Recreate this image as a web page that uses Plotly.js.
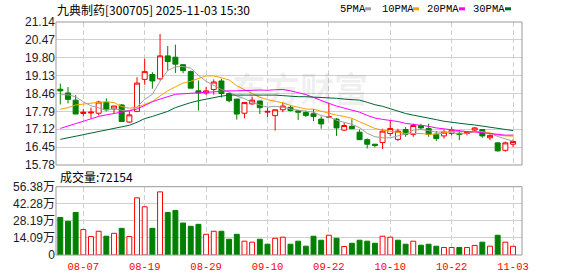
<!DOCTYPE html>
<html>
<head>
<meta charset="utf-8">
<script src="https://cdn.plot.ly/plotly-3.0.1.min.js"></script>
<style>html,body{margin:0;padding:0;background:#fff;}#chart{width:578px;height:276px;}</style>
</head>
<body>
<div id="chart"></div>
<script>
// ---- data ----
const dates = ['08-04','08-05','08-06','08-07','08-08','08-11','08-12','08-13','08-14','08-15',
  '08-18','08-19','08-20','08-21','08-22','08-25','08-26','08-27','08-28','08-29',
  '09-01','09-02','09-03','09-04','09-05','09-08','09-09','09-10','09-11','09-12',
  '09-15','09-16','09-17','09-18','09-19','09-22','09-23','09-24','09-25','09-26',
  '09-29','09-30','10-09','10-10','10-13','10-14','10-15','10-16','10-17','10-20',
  '10-21','10-22','10-23','10-24','10-27','10-28','10-29','10-30','10-31','11-03'];
const openP = [18.62,18.48,18.21,17.71,17.73,17.72,18.13,17.88,18.03,17.39,
  17.79,18.99,19.17,19.01,19.87,19.82,19.54,19.28,18.56,18.48,
  18.61,18.93,18.46,18.25,17.72,18.07,18.18,17.76,17.63,17.85,
  17.94,17.81,17.75,17.70,17.50,17.57,17.50,17.09,17.23,17.01,
  16.73,16.56,16.62,16.96,16.74,17.11,16.93,17.26,17.15,16.93,
  16.87,16.96,16.97,16.96,17.09,17.11,16.80,16.61,16.33,16.56];
const highP = [18.83,18.70,18.40,17.88,17.93,18.19,18.28,18.00,18.06,17.81,
  19.07,19.77,19.26,20.69,20.24,20.29,19.55,19.32,18.95,18.70,
  18.99,19.01,18.50,18.25,18.12,18.34,18.18,17.93,17.85,18.12,
  18.03,17.82,17.81,17.88,17.60,18.09,17.54,17.36,17.50,17.11,
  16.78,16.57,17.14,17.45,17.14,17.20,17.33,17.33,17.33,17.05,
  17.11,17.20,17.09,17.05,17.20,17.12,16.93,16.62,16.66,16.74];
const lowP = [18.05,18.09,17.69,17.60,17.52,17.64,17.79,17.70,17.40,17.36,
  17.76,18.79,18.64,18.95,19.32,19.23,19.22,18.66,17.82,18.40,
  18.42,18.31,18.13,17.48,17.53,18.03,17.69,17.57,17.07,17.76,
  17.79,17.47,17.58,17.42,17.14,17.54,16.87,17.05,17.13,16.72,
  16.40,16.44,16.38,16.87,16.68,16.84,16.84,17.11,16.84,16.68,
  16.77,16.89,16.71,16.89,17.05,16.80,16.71,16.28,16.28,16.46];
const closeP = [18.56,18.24,17.69,17.76,17.76,18.14,17.85,17.99,17.41,17.66,
  18.85,19.28,18.93,19.87,19.66,19.56,19.32,18.66,18.48,18.56,
  18.89,18.46,18.19,17.69,18.12,18.21,17.93,17.79,17.85,17.99,
  17.82,17.76,17.64,17.60,17.32,17.59,17.17,17.26,17.14,16.73,
  16.56,16.51,17.05,17.15,17.05,16.93,17.26,17.17,16.93,16.77,
  17.01,17.09,16.93,17.01,17.17,16.87,16.89,16.31,16.61,16.66];
const ma5 = [18.42,18.41,18.34,18.15,18.00,17.92,17.84,17.90,17.83,17.81,
  17.95,18.24,18.43,18.92,19.32,19.46,19.47,19.41,19.14,18.92,
  18.78,18.61,18.52,18.36,18.27,18.13,18.03,17.95,17.98,17.95,
  17.88,17.84,17.81,17.76,17.63,17.58,17.46,17.39,17.30,17.18,
  16.97,16.84,16.80,16.80,16.86,16.94,17.09,17.11,17.07,17.01,
  17.03,16.99,16.95,16.96,17.04,17.01,16.97,16.85,16.77,16.67];
const ma10 = [17.87,17.93,18.03,18.07,18.09,18.13,18.15,18.12,17.97,17.91,
  17.94,18.04,18.16,18.37,18.56,18.71,18.85,18.92,19.03,19.12,
  19.12,19.04,18.97,18.75,18.59,18.46,18.32,18.23,18.17,18.11,
  18.01,17.94,17.88,17.87,17.79,17.73,17.65,17.60,17.53,17.40,
  17.28,17.15,17.09,17.05,17.02,16.96,16.96,16.96,16.93,16.94,
  16.98,17.04,17.03,17.02,17.03,17.02,16.98,16.90,16.87,16.86];
const ma20 = [17.15,17.23,17.33,17.42,17.52,17.60,17.66,17.72,17.76,17.81,
  17.88,18.01,18.15,18.25,18.34,18.43,18.45,18.47,18.50,18.51,
  18.53,18.54,18.56,18.56,18.58,18.58,18.59,18.58,18.60,18.61,
  18.56,18.49,18.42,18.31,18.19,18.09,17.99,17.92,17.85,17.76,
  17.64,17.54,17.49,17.46,17.41,17.34,17.31,17.28,17.23,17.17,
  17.13,17.10,17.06,17.03,17.02,16.99,16.97,16.93,16.90,16.90];
const ma30 = [16.74,16.80,16.87,16.93,16.98,17.05,17.11,17.17,17.23,17.27,
  17.38,17.52,17.60,17.69,17.79,17.93,18.03,18.12,18.19,18.25,
  18.30,18.36,18.40,18.40,18.41,18.42,18.42,18.41,18.40,18.38,
  18.35,18.34,18.34,18.33,18.32,18.30,18.28,18.25,18.24,18.21,
  18.13,18.04,17.98,17.89,17.80,17.71,17.65,17.60,17.54,17.48,
  17.42,17.38,17.33,17.31,17.28,17.24,17.20,17.15,17.11,17.07];
// volume in 万 (10k)
const volume = [31.0,27.8,35.1,21.0,15.2,19.6,15.5,17.9,22.0,15.2,
  47.2,39.8,22.0,52.1,35.1,36.8,26.4,23.7,25.3,17.1,
  19.6,19.6,13.0,17.1,11.4,10.6,13.0,8.9,13.8,14.7,
  8.9,11.4,7.3,15.5,12.2,16.3,13.8,7.0,9.7,12.2,
  11.4,9.7,15.5,14.7,12.2,8.9,11.4,8.1,8.9,7.3,
  6.2,6.2,6.2,6.2,7.9,10.6,7.3,16.3,10.6,7.22];
// 1 = up (red hollow), -1 = down (green solid)
const volDir = [-1,-1,-1,1,1,1,-1,1,-1,1,
  1,1,-1,1,-1,-1,-1,-1,-1,1,
  1,-1,-1,-1,1,1,-1,-1,1,1,
  -1,-1,-1,-1,-1,1,-1,1,-1,-1,
  -1,-1,1,1,-1,-1,1,-1,-1,-1,
  1,1,-1,1,1,-1,1,-1,1,1];
const priceTicks = [15.78,16.45,17.12,17.79,18.46,19.13,19.80,20.47,21.14];
const volTicks = [0,14.09,28.19,42.28,56.38];
const volTickText = ['0','14.09万','28.19万','42.28万','56.38万'];
const dateTicks = ['08-07','08-19','08-29','09-10','09-22','10-10','10-22','11-03'];
const maNames = ['5PMA','10PMA','20PMA','30PMA'];
const lastVolume = '72154';

// ---- style ----
const RED = '#ff0000', GREEN = '#008000';
const maColors = ['#a0a0a0','#f5a200','#ff00ff','#006633'];
const W = 578, H = 276, L = 56, R = 56, T = 22, B = 21;
const PH = H - T - B, PW = W - L - R;
const py = Y => (H - B - Y) / PH;   // pixel y -> paper
const px = X => (X - L) / PW;        // pixel x -> paper

const traces = [];
traces.push({
  type: 'candlestick', x: dates, open: openP, high: highP, low: lowP, close: closeP,
  xaxis: 'x', yaxis: 'y', whiskerwidth: 0, hoverinfo: 'skip',
  increasing: {line: {color: RED, width: 1}, fillcolor: '#ffffff'},
  decreasing: {line: {color: GREEN, width: 1}, fillcolor: GREEN},
  showlegend: false
});
[ma5, ma10, ma20, ma30].forEach((arr, k) => {
  traces.push({type: 'scatter', mode: 'lines', x: dates, y: arr, xaxis: 'x', yaxis: 'y',
    line: {color: maColors[k], width: 1}, hoverinfo: 'skip', showlegend: false});
});
traces.push({
  type: 'bar', x: dates, y: volume, xaxis: 'x', yaxis: 'y2', width: 0.64,
  marker: {color: volDir.map(d => d > 0 ? '#ffffff' : GREEN),
           line: {color: volDir.map(d => d > 0 ? RED : GREEN), width: 1}},
  hoverinfo: 'skip', showlegend: false
});

const annotations = [
  {text: '九典制药[300705] 2025-11-03 15:30', xref: 'paper', yref: 'paper', x: 0, y: py(9.2),
   xanchor: 'left', yanchor: 'middle', showarrow: false, xshift: -1,
   font: {family: 'Noto Sans CJK SC', size: 12, color: '#000'}},
  {text: '成交量:' + lastVolume, xref: 'paper', yref: 'paper', x: px(58), y: py(176.7),
   xanchor: 'left', yanchor: 'middle', showarrow: false,
   font: {family: 'Noto Sans CJK SC', size: 12, color: '#000'}},
  {text: '东方财富', xref: 'paper', yref: 'paper', x: px(300), y: py(87),
   xanchor: 'center', yanchor: 'middle', showarrow: false,
   font: {family: 'Noto Sans CJK SC', size: 34, color: 'rgba(0,0,0,0.07)', weight: 'bold'}}
];
const legendTextX = [339, 380.7, 426, 471.7];
const legendBoxX = [365, 413, 459, 505];
const shapes = [];
maNames.forEach((n, k) => {
  annotations.push({text: n, xref: 'paper', yref: 'paper', x: px(legendTextX[k]), y: py(8.6),
    xanchor: 'left', yanchor: 'middle', showarrow: false, xshift: -1,
    font: {family: 'Liberation Mono', size: 10.5, color: '#000'}});
  shapes.push({type: 'rect', xref: 'paper', yref: 'paper', x0: px(legendBoxX[k]), x1: px(legendBoxX[k] + 6),
    y0: py(10.3), y1: py(7.3), line: {width: 0}, fillcolor: maColors[k]});
});
// panel borders
shapes.push({type: 'rect', xref: 'paper', yref: 'y domain', x0: 0, x1: 1, y0: 0, y1: 1,
  line: {color: '#999', width: 1}, layer: 'above'});
shapes.push({type: 'rect', xref: 'paper', yref: 'y2 domain', x0: 0, x1: 1, y0: 0, y1: 1,
  line: {color: '#999', width: 1}, layer: 'above'});

const layout = {
  width: W, height: H, margin: {l: L, r: R, t: T, b: B, pad: 0},
  paper_bgcolor: '#ffffff', plot_bgcolor: '#ffffff', showlegend: false,
  boxgap: 0.35, boxgroupgap: 0,
  xaxis: {type: 'category', anchor: 'y2', domain: [0, 1], range: [-0.56, 60.17],
    tickmode: 'array', tickvals: dateTicks, ticktext: dateTicks,
    showgrid: true, gridcolor: '#cfcfcf', griddash: '5px,3px', gridwidth: 1,
    zeroline: false, showline: false, ticks: 'outside', ticklen: 1, tickcolor: 'rgba(0,0,0,0)',
    tickfont: {family: 'Liberation Mono', size: 10.5, color: RED},
    rangeslider: {visible: false}, fixedrange: true},
  yaxis: {domain: [py(165), 1], range: [15.78, 21.14], anchor: 'x',
    tickmode: 'array', tickvals: priceTicks, ticktext: priceTicks.map(v => v.toFixed(2)),
    showgrid: true, gridcolor: '#d0d0d0', zeroline: false, showline: false, ticks: '',
    tickfont: {family: 'Liberation Sans', size: 12, color: '#1a1a2a'}, fixedrange: true},
  yaxis2: {domain: [0, py(186.7)], range: [0, 56.38], anchor: 'x',
    tickmode: 'array', tickvals: volTicks, ticktext: volTickText,
    showgrid: true, gridcolor: '#d0d0d0', zeroline: false, showline: false, ticks: '',
    tickfont: {family: 'Liberation Sans, Noto Sans CJK SC', size: 12, color: '#1a1a2a'}, fixedrange: true},
  annotations: annotations, shapes: shapes
};

Plotly.newPlot('chart', traces, layout, {staticPlot: true, displayModeBar: false});
</script>
</body>
</html>
